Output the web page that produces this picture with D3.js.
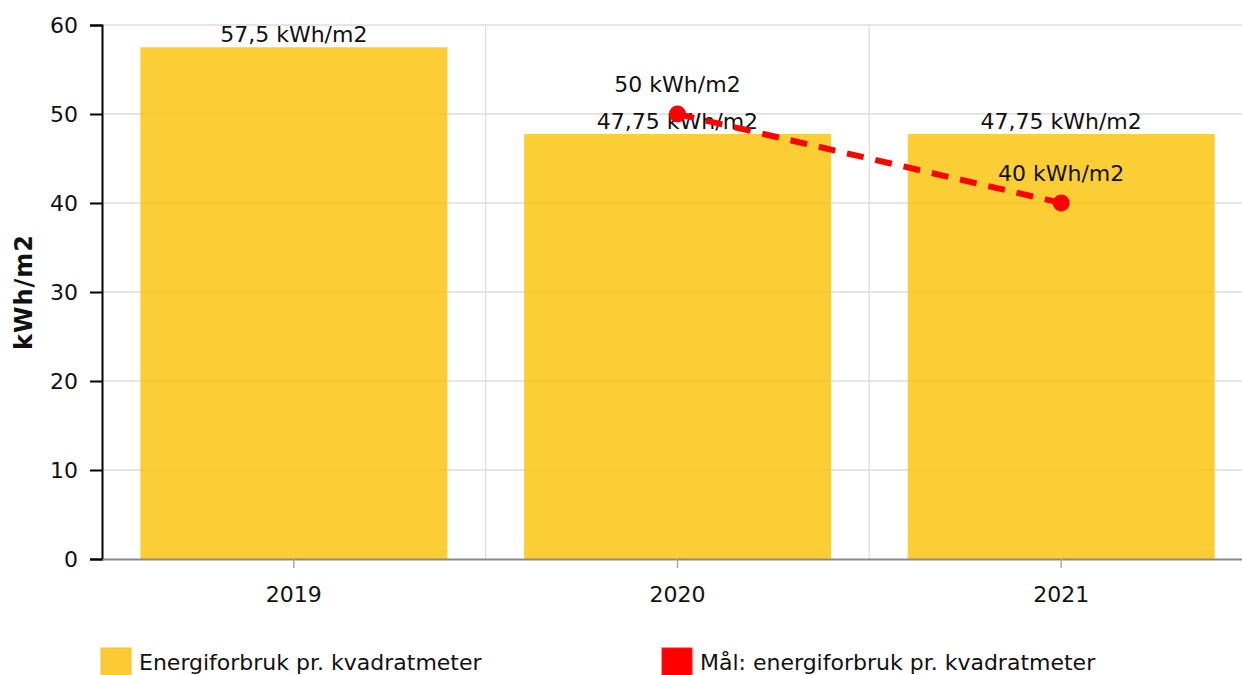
<!DOCTYPE html>
<html>
<head>
<meta charset="utf-8">
<script src="https://cdn.jsdelivr.net/npm/d3@7"></script>
<style>
  body { margin: 0; background: #fff; }
  text { font-family: "DejaVu Sans", Verdana, sans-serif; }
</style>
</head>
<body>
<div id="wrapper"></div>
<script>
// data
const years = ["2019", "2020", "2021"]
const usage = [57.5, 47.75, 47.75]
const usageLabels = ["57,5 kWh/m2", "47,75 kWh/m2", "47,75 kWh/m2"]
const targetYears = ["2020", "2021"]
const target = [50, 40]
const targetLabels = ["50 kWh/m2", "40 kWh/m2"]
const yTicks = [0, 10, 20, 30, 40, 50, 60]
const legendNames = ["Energiforbruk pr. kvadratmeter", "Mål: energiforbruk pr. kvadratmeter"]

const width = 1242
const height = 675
const margin = { top: 25, right: -11, bottom: 116, left: 102 }
const boundedWidth = width - margin.left - margin.right
const boundedHeight = height - margin.top - margin.bottom
const fontSize = 22

const svg = d3.select("#wrapper").append("svg")
  .attr("width", width)
  .attr("height", height)

const bounds = svg.append("g")
  .attr("transform", `translate(${margin.left},${margin.top})`)

const xScale = d3.scaleBand()
  .domain(years)
  .range([0, boundedWidth])
  .padding(0)

const yScale = d3.scaleLinear()
  .domain([0, 60])
  .range([boundedHeight, 0])

// grid
bounds.append("g")
  .selectAll("line")
  .data(yTicks.slice(1))
  .join("line")
    .attr("x1", 0)
    .attr("x2", boundedWidth)
    .attr("y1", d => yScale(d))
    .attr("y2", d => yScale(d))
    .attr("stroke", "#dcdcdc")
    .attr("stroke-width", 1.5)

bounds.append("g")
  .selectAll("line")
  .data(years.slice(1))
  .join("line")
    .attr("x1", d => xScale(d))
    .attr("x2", d => xScale(d))
    .attr("y1", 0)
    .attr("y2", boundedHeight)
    .attr("stroke", "#e0e0e0")
    .attr("stroke-width", 1.5)

// bars
const barData = years.map((y, i) => ({ year: y, value: usage[i], label: usageLabels[i] }))
const bw = xScale.bandwidth()

bounds.append("g")
  .selectAll("rect")
  .data(barData)
  .join("rect")
    .attr("x", d => xScale(d.year) + bw * 0.1)
    .attr("y", d => yScale(d.value))
    .attr("width", bw * 0.8)
    .attr("height", d => boundedHeight - yScale(d.value))
    .attr("fill", "rgb(251,194,4)")
    .attr("fill-opacity", 0.8)

bounds.append("g")
  .selectAll("text")
  .data(barData)
  .join("text")
    .attr("x", d => xScale(d.year) + bw / 2)
    .attr("y", d => yScale(d.value) - 5)
    .attr("text-anchor", "middle")
    .attr("font-size", fontSize)
    .attr("fill", "#111")
    .text(d => d.label)

// axes
const yAxis = bounds.append("g")
  .call(d3.axisLeft(yScale).tickValues(yTicks).tickSize(12).tickPadding(12))
yAxis.select(".domain").attr("stroke", "#000").attr("stroke-width", 2)
yAxis.selectAll(".tick line").attr("stroke", "#000").attr("stroke-width", 2)
yAxis.selectAll(".tick text")
  .attr("font-size", fontSize)
  .attr("font-family", "DejaVu Sans, Verdana, sans-serif")
  .attr("fill", "#111")

const xAxis = bounds.append("g")
  .attr("transform", `translate(0,${boundedHeight})`)
  .call(d3.axisBottom(xScale).tickSize(9).tickPadding(18).tickSizeOuter(0))
xAxis.select(".domain").attr("stroke", "#8a8a8a").attr("stroke-width", 2)
xAxis.selectAll(".tick line").attr("stroke", "#aaa").attr("stroke-width", 1.5)
xAxis.selectAll(".tick text")
  .attr("font-size", fontSize)
  .attr("font-family", "DejaVu Sans, Verdana, sans-serif")
  .attr("fill", "#111")

svg.append("text")
  .attr("transform", `translate(32,${margin.top + boundedHeight / 2}) rotate(-90)`)
  .attr("text-anchor", "middle")
  .attr("font-size", 24)
  .attr("font-weight", "bold")
  .attr("letter-spacing", 1)
  .attr("fill", "#111")
  .text("kWh/m2")

// target line
const targetData = targetYears.map((y, i) => ({ year: y, value: target[i], label: targetLabels[i] }))
const line = d3.line()
  .x(d => xScale(d.year) + bw / 2)
  .y(d => yScale(d.value))

bounds.append("path")
  .datum(targetData)
  .attr("d", line)
  .attr("fill", "none")
  .attr("stroke", "#ff0000")
  .attr("stroke-width", 6)
  .attr("stroke-dasharray", "17 12")

bounds.append("g")
  .selectAll("circle")
  .data(targetData)
  .join("circle")
    .attr("cx", d => xScale(d.year) + bw / 2)
    .attr("cy", d => yScale(d.value))
    .attr("r", 8.5)
    .attr("fill", "#ff0000")

bounds.append("g")
  .selectAll("text")
  .data(targetData)
  .join("text")
    .attr("x", d => xScale(d.year) + bw / 2)
    .attr("y", d => yScale(d.value) - 22)
    .attr("text-anchor", "middle")
    .attr("font-size", fontSize)
    .attr("fill", "#111")
    .text(d => d.label)

// legend
const legendColors = ["rgb(252,202,50)", "#ff0000"]
const legendX = [101, 662]
const legend = svg.append("g")
  .selectAll("g")
  .data(legendNames)
  .join("g")
    .attr("transform", (d, i) => `translate(${legendX[i]},648)`)
legend.append("rect")
  .attr("width", 30)
  .attr("height", 30)
  .attr("fill", (d, i) => legendColors[i])
  .attr("stroke", (d, i) => i === 0 ? "#f5c030" : "#ff2020")
  .attr("stroke-width", 1)
legend.append("text")
  .attr("x", 38)
  .attr("y", 22)
  .attr("font-size", fontSize)
  .attr("fill", "#111")
  .text(d => d)
</script>
</body>
</html>
